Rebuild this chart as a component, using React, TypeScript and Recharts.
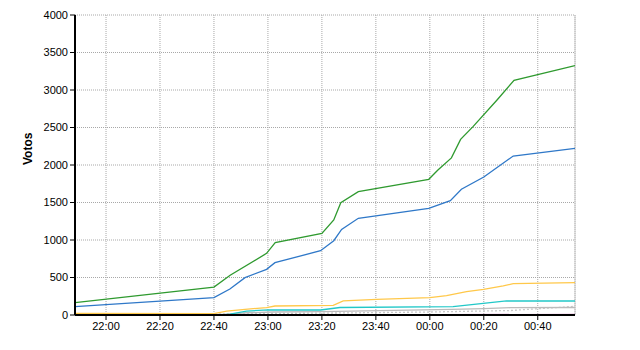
import React from "react";
import { LineChart, Line, XAxis, YAxis, CartesianGrid, ReferenceLine } from "recharts";

// minutes counted from 22:00
const greenT = [-11.5, 40, 46, 59.5, 62.7, 80, 84.4, 87, 93.5, 119.6, 123, 128, 131.4, 136, 144.9, 151.2, 173.8];
const greenV = [165, 373, 530, 822, 964, 1089, 1267, 1497, 1644, 1809, 1933, 2095, 2342, 2511, 2867, 3129, 3324];

const blueT = [-11.5, 40, 45.9, 51.5, 59.5, 62.6, 79.5, 84.4, 87.3, 93.5, 119.6, 127.6, 131.7, 140, 150.9, 173.8];
const blueV = [111, 231, 347, 498, 609, 698, 857, 991, 1142, 1289, 1422, 1524, 1676, 1840, 2120, 2222];

const yellowT = [-11.5, 40, 44.7, 51.5, 59.5, 62.6, 84.2, 87.9, 100.3, 120, 126.2, 133.6, 139.9, 147.2, 150.9, 173.8];
const yellowV = [20, 18, 53, 76, 98, 120, 129, 187, 209, 231, 258, 311, 342, 387, 418, 431];

const cyanT = [-11.5, 44, 46, 52, 60, 79.5, 86.7, 128.6, 139.8, 148.4, 173.8];
const cyanV = [5, 5, 13, 53, 67, 67, 100, 111, 156, 187, 187];

const greyT = [-11.5, 44, 52, 62, 80, 128, 140, 150, 173.8];
const greyV = [8, 8, 30, 40, 44, 75, 84, 98, 100];

const dotT = [-11.5, 60, 90, 120, 150, 173.8];
const dotV = [0, 20, 28, 40, 60, 115];

const pinkT = [100, 173.8];
const pinkV = [3, 8];

const xTicks = [0, 20, 40, 60, 80, 100, 120, 140, 160];
const yTicks = [0, 500, 1000, 1500, 2000, 2500, 3000, 3500, 4000];

const pts = (t: number[], v: number[]) => t.map((x, i) => ({ t: x, v: v[i] }));

const fmtTime = (m: number) => {
  const h = (22 + Math.floor(m / 60)) % 24;
  const mm = m % 60;
  return `${String(h).padStart(2, "0")}:${String(mm).padStart(2, "0")}`;
};

const series = [
  { key: "pink", data: pts(pinkT, pinkV), color: "#dd88cc", dash: undefined },
  { key: "dot", data: pts(dotT, dotV), color: "#c8c8c8", dash: "2 2" },
  { key: "grey", data: pts(greyT, greyV), color: "#bbbbbb", dash: undefined },
  { key: "cyan", data: pts(cyanT, cyanV), color: "#22c8c8", dash: undefined },
  { key: "yellow", data: pts(yellowT, yellowV), color: "#ffc84a", dash: undefined },
  { key: "blue", data: pts(blueT, blueV), color: "#2f78c8", dash: undefined },
  { key: "green", data: pts(greenT, greenV), color: "#2f9a2f", dash: undefined },
];

const font = "'Liberation Sans', Arial, sans-serif";
const tick = { fill: "#000", fontSize: 11, fontFamily: font };

export default function App() {
  return (
    <div style={{ position: "absolute", left: 0, top: 0, width: 640, height: 350, background: "#fff" }}>
      <LineChart width={640} height={350} margin={{ top: 15, right: 65, bottom: 0, left: 0 }}>
        <CartesianGrid stroke="#a8a8a8" strokeDasharray="1 1" />
        <XAxis
          type="number"
          dataKey="t"
          domain={[-11.5, 173.8]}
          ticks={xTicks}
          tickFormatter={fmtTime}
          allowDataOverflow
          height={35}
          tick={tick}
          tickSize={5}
          tickLine={{ stroke: "#000" }}
          axisLine={{ stroke: "#000", strokeWidth: 2 }}
        />
        <YAxis
          type="number"
          domain={[0, 4000]}
          ticks={yTicks}
          width={75}
          tick={tick}
          tickSize={5}
          tickLine={{ stroke: "#000" }}
          axisLine={{ stroke: "#000", strokeWidth: 2 }}
          label={{
            value: "Votos",
            angle: -90,
            position: "insideLeft",
            offset: 28,
            style: { fontFamily: font, fontSize: 12, fontWeight: "bold", fill: "#000" },
          }}
        />
        <ReferenceLine x={173.8} stroke="#c8c8c8" />
        {series.map((s) => (
          <Line
            key={s.key}
            data={s.data}
            dataKey="v"
            type="linear"
            stroke={s.color}
            strokeWidth={1.3}
            strokeDasharray={s.dash}
            dot={false}
            activeDot={false}
            isAnimationActive={false}
          />
        ))}
      </LineChart>
    </div>
  );
}
